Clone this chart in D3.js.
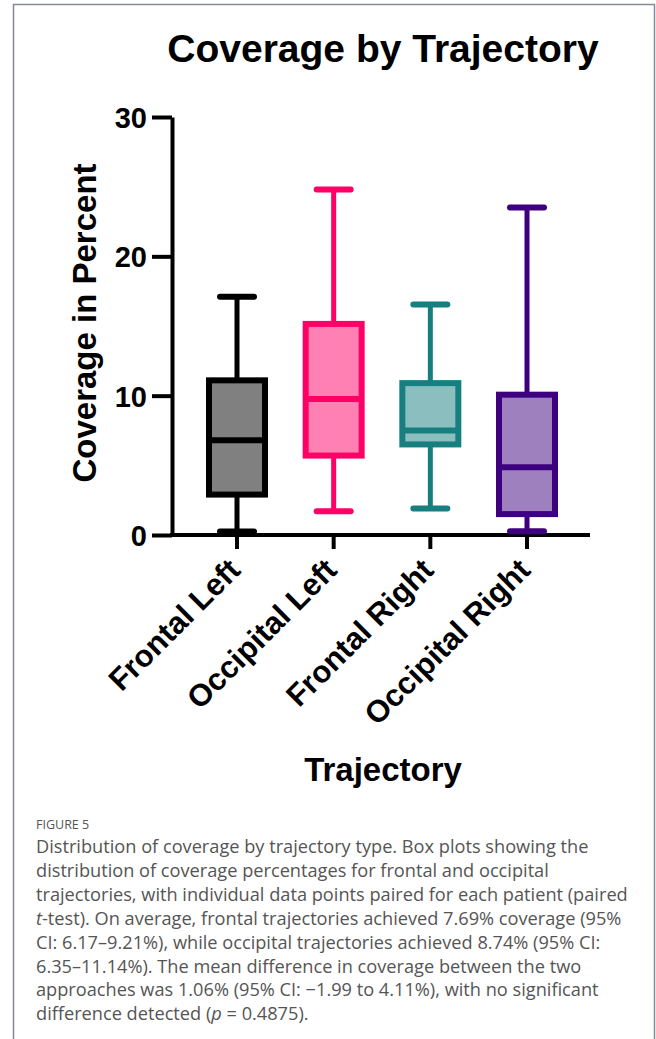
<!DOCTYPE html>
<html>
<head>
<meta charset="utf-8">
<script src="https://cdn.jsdelivr.net/npm/d3@7"></script>
<style>
  html, body { margin: 0; padding: 0; background: #fff; }
  svg { display: block; }
</style>
</head>
<body>
<svg id="chart" width="656" height="1039"></svg>
<script>

// values (coverage in percent)
const categories = ["Frontal Left", "Occipital Left", "Frontal Right", "Occipital Right"];
const whiskerLow = [0.25, 1.7, 1.9, 0.27];
const q1 = [2.9, 5.7, 6.5, 1.5];
const median = [6.8, 9.76, 7.5, 4.86];
const q3 = [11.1, 15.15, 10.9, 10.07];
const whiskerHigh = [17.1, 24.8, 16.55, 23.5];
const yTicks = [0, 10, 20, 30];

const strokeColors = ["#000000", "#ff0066", "#177f7f", "#3f007f"];
const fillColors = ["#808080", "#ff80b2", "#8bbfbf", "#9f80bf"];

const captionHead = "FIGURE 5";
const captionLines = [
  "Distribution of coverage by trajectory type. Box plots showing the",
  "distribution of coverage percentages for frontal and occipital",
  "trajectories, with individual data points paired for each patient (paired",
  "*t*-test). On average, frontal trajectories achieved 7.69% coverage (95%",
  "CI: 6.17\u20139.21%), while occipital trajectories achieved 8.74% (95% CI:",
  "6.35\u201311.14%). The mean difference in coverage between the two",
  "approaches was 1.06% (95% CI: \u22121.99 to 4.11%), with no significant",
  "difference detected (*p* = 0.4875)."
];

const svg = d3.select("#chart");
const font = "'Liberation Sans', Arial, sans-serif";

let boxes = categories.map((c, i) => ({
  name: c, lo: whiskerLow[i], q1: q1[i], med: median[i], q3: q3[i], hi: whiskerHigh[i],
  stroke: strokeColors[i], fill: fillColors[i]
}));

// frame
svg.append("path")
  .attr("d", "M13.5,1039V4.5H654.5V1039")
  .attr("fill", "none")
  .attr("stroke", "#868a96")
  .attr("stroke-width", 1.5);

let y = d3.scaleLinear().domain([0, 30]).range([535, 117]);
let x = d3.scalePoint().domain(categories).range([237, 527]);
let axisX0 = 172, axisX1 = 590;

// title
svg.append("text")
  .attr("x", 383).attr("y", 62)
  .attr("text-anchor", "middle")
  .style("font-family", font).style("font-weight", "bold").style("font-size", "39px")
  .text("Coverage by Trajectory");

// y axis
let yAxis = svg.append("g")
  .attr("transform", "translate(" + axisX0 + ",0)")
  .call(d3.axisLeft(y).tickValues(yTicks).tickSize(20).tickPadding(5).tickSizeOuter(0));
yAxis.select(".domain").attr("stroke", "#000").attr("stroke-width", 4);
yAxis.selectAll(".tick line").attr("stroke", "#000").attr("stroke-width", 4);
yAxis.selectAll(".tick text")
  .style("font-family", font).style("font-weight", "bold").style("font-size", "29px")
  .attr("fill", "#000").attr("dy", "0.36em");

svg.append("text")
  .attr("transform", "translate(96," + 323 + ")rotate(-90)")
  .attr("text-anchor", "middle")
  .style("font-family", font).style("font-weight", "bold").style("font-size", "33px")
  .text("Coverage in Percent");

// x axis
svg.append("line")
  .attr("x1", axisX0 - 2).attr("x2", axisX1)
  .attr("y1", y(0)).attr("y2", y(0))
  .attr("stroke", "#000").attr("stroke-width", 4);

svg.selectAll(".xtick")
  .data(categories)
  .enter().append("line")
  .attr("class", "xtick")
  .attr("x1", (d) => x(d)).attr("x2", (d) => x(d))
  .attr("y1", y(0)).attr("y2", y(0) + 14)
  .attr("stroke", "#000").attr("stroke-width", 4);

svg.selectAll(".xlabel")
  .data(categories)
  .enter().append("text")
  .attr("class", "xlabel")
  .attr("transform", (d) => "translate(" + (x(d) + 5) + "," + (y(0) + 37) + ")rotate(-45)")
  .attr("text-anchor", "end")
  .style("font-family", font).style("font-weight", "bold").style("font-size", "31px")
  .text((d) => d);

svg.append("text")
  .attr("x", 383).attr("y", 781)
  .attr("text-anchor", "middle")
  .style("font-family", font).style("font-weight", "bold").style("font-size", "33px")
  .text("Trajectory");

// boxes
let boxW = 56, capHalf = 17;
let g = svg.selectAll(".box")
  .data(boxes)
  .enter().append("g")
  .attr("class", "box");

g.append("line")
  .attr("x1", (d) => x(d.name)).attr("x2", (d) => x(d.name))
  .attr("y1", (d) => y(d.lo)).attr("y2", (d) => y(d.hi))
  .attr("stroke", (d) => d.stroke).attr("stroke-width", 5);

g.selectAll(".cap")
  .data((d) => [{v: d.lo, d: d}, {v: d.hi, d: d}])
  .enter().append("line")
  .attr("class", "cap")
  .attr("x1", (c) => x(c.d.name) - capHalf).attr("x2", (c) => x(c.d.name) + capHalf)
  .attr("y1", (c) => y(c.v)).attr("y2", (c) => y(c.v))
  .attr("stroke", (c) => c.d.stroke).attr("stroke-width", 6)
  .attr("stroke-linecap", "round");

g.append("rect")
  .attr("x", (d) => x(d.name) - boxW / 2)
  .attr("width", boxW)
  .attr("y", (d) => y(d.q3))
  .attr("height", (d) => y(d.q1) - y(d.q3))
  .attr("fill", (d) => d.fill)
  .attr("stroke", (d) => d.stroke).attr("stroke-width", 6);

g.append("line")
  .attr("x1", (d) => x(d.name) - boxW / 2).attr("x2", (d) => x(d.name) + boxW / 2)
  .attr("y1", (d) => y(d.med)).attr("y2", (d) => y(d.med))
  .attr("stroke", (d) => d.stroke).attr("stroke-width", 6);

// caption
const capFont = "'Open Sans', 'Noto Sans', sans-serif";
svg.append("text")
  .attr("x", 36).attr("y", 829)
  .style("font-family", capFont).style("font-size", "12.5px")
  .attr("fill", "#555")
  .text(captionHead);

let cap = svg.append("g")
  .style("font-family", capFont).style("font-size", "18.2px")
  .attr("fill", "#555");

captionLines.forEach((line, i) => {
  let t = cap.append("text").attr("x", 36).attr("y", 853 + i * 23.9);
  line.split("*").forEach((part, j) => {
    if (!part) return;
    t.append("tspan").style("font-style", j % 2 ? "italic" : "normal").text(part);
  });
});

</script>
</body>
</html>
